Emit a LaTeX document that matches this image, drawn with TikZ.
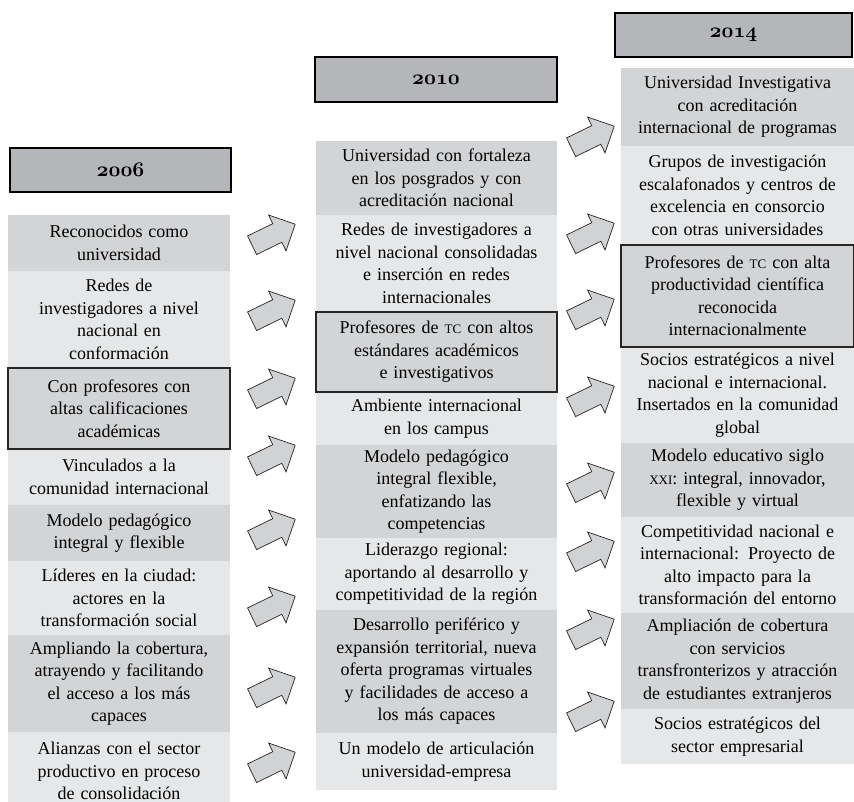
\documentclass[tikz,border=0pt]{standalone}
\usepackage{fontspec}
\setmainfont{Liberation Serif}
\usetikzlibrary{positioning,shapes.arrows}
\definecolor{headgray}{HTML}{B5B6B9}
\definecolor{boxdark}{HTML}{D3D4D6}
\definecolor{boxlight}{HTML}{E6E7E8}
\definecolor{arrowgray}{HTML}{D1D2D4}
\newcommand{\smc}[1]{{\fontsize{13}{22.5}\selectfont #1}}
\newcommand{\yr}[1]{{\boldmath$\mathnormal{#1}$}}
\tikzset{
	yearbox/.style={draw=black,line width=2pt,fill=headgray,inner sep=0pt,font=\fontsize{21}{24}\selectfont},
	item/.style={inner xsep=4pt,inner ysep=0pt,outer sep=0pt,align=center,font=\fontsize{18}{22.5}\selectfont},
	darkitem/.style={item,fill=boxdark},
	lightitem/.style={item,fill=boxlight},
	frameline/.style={draw=black!85,line width=1.5pt},
	cola/.style={text width=214pt},
	colb/.style={text width=233pt},
	colc/.style={text width=225pt},
	blockarrow/.style={single arrow,draw=black!85,line width=0.7pt,fill=arrowgray,inner sep=0pt,
		text height=10pt,text depth=10pt,minimum height=48pt,single arrow head extend=9.6pt,rotate=26}
}
\begin{document}
\begin{tikzpicture}[x=1pt,y=-1pt]
	\useasboundingbox (0,0) rectangle (854,802);
	% 2006
	\node[yearbox,minimum width=221pt,minimum height=44pt] (Y2006) at (120.5,170) {\yr{2006}};
	\node[darkitem,cola,minimum height=56pt,anchor=north] (A1) at (119,215) {Reconocidos como\\universidad};
	\node[lightitem,cola,minimum height=97pt,below=0pt of A1] (A2) {Redes de\\investigadores a nivel\\nacional en\\conformación};
	\node[darkitem,cola,minimum height=81pt,below=0pt of A2] (A3) {Con profesores con\\altas calificaciones\\académicas};
	\node[lightitem,cola,minimum height=56pt,below=0pt of A3] (A4) {Vinculados a la\\comunidad internacional};
	\node[darkitem,cola,minimum height=56pt,below=0pt of A4] (A5) {Modelo pedagógico\\integral y flexible};
	\node[lightitem,cola,minimum height=74pt,below=0pt of A5] (A6) {Líderes en la ciudad:\\actores en la\\transformación social};
	\node[darkitem,cola,minimum height=97pt,below=0pt of A6] (A7) {Ampliando la cobertura,\\atrayendo y facilitando\\el acceso a los más\\capaces};
	\node[lightitem,cola,minimum height=78pt,below=0pt of A7] (A8) {Alianzas con el sector\\productivo en proceso\\de consolidación};
	\draw[frameline] (A3.north west) rectangle (A3.south east);

	% 2010
	\node[yearbox,minimum width=242pt,minimum height=45pt] (Y2010) at (436,79.5) {\yr{2010}};
	\node[darkitem,colb,minimum height=74pt,anchor=north] (B1) at (436.5,141) {Universidad con fortaleza\\en los posgrados y con\\acreditación nacional};
	\node[lightitem,colb,minimum height=97pt,below=0pt of B1] (B2) {Redes de investigadores a\\nivel nacional consolidadas\\e inserción en redes\\internacionales};
	\node[darkitem,colb,minimum height=80pt,below=0pt of B2] (B3) {Profesores de \smc{TC} con altos\\estándares académicos\\e investigativos};
	\node[lightitem,colb,minimum height=53pt,below=0pt of B3] (B4) {Ambiente internacional\\en los campus};
	\node[darkitem,colb,minimum height=93pt,below=0pt of B4] (B5) {Modelo pedagógico\\integral flexible,\\enfatizando las\\competencias};
	\node[lightitem,colb,minimum height=72pt,below=0pt of B5] (B6) {Liderazgo regional:\\aportando al desarrollo y\\competitividad de la región};
	\node[darkitem,colb,minimum height=123pt,below=0pt of B6] (B7) {Desarrollo periférico y\\expansión territorial, nueva\\oferta programas virtuales\\y facilidades de acceso a\\los más capaces};
	\node[lightitem,colb,minimum height=57pt,below=0pt of B7] (B8) {Un modelo de articulación\\universidad-empresa};
	\draw[frameline] (B3.north west) rectangle (B3.south east);

	% 2014
	\node[yearbox,minimum width=237pt,minimum height=44pt] (Y2014) at (733.5,35) {\yr{2014}};
	\node[darkitem,colc,minimum height=78pt,anchor=north] (C1) at (737.5,68) {Universidad Investigativa\\con acreditación\\internacional de programas};
	\node[lightitem,colc,minimum height=99pt,below=0pt of C1] (C2) {Grupos de investigación\\escalafonados y centros de\\excelencia en consorcio\\con otras universidades};
	\node[darkitem,colc,minimum height=102pt,below=0pt of C2] (C3) {Profesores de \smc{TC} con alta\\productividad científica\\reconocida\\internacionalmente};
	\node[lightitem,colc,minimum height=96pt,below=0pt of C3] (C4) {Socios estratégicos a nivel\\nacional e internacional.\\Insertados en la comunidad\\global};
	\node[darkitem,colc,minimum height=74pt,below=0pt of C4] (C5) {Modelo educativo siglo\\\smc{XXI}: integral, innovador,\\flexible y virtual};
	\node[lightitem,colc,minimum height=96pt,below=0pt of C5] (C6) {Competitividad nacional e\\internacional: Proyecto de\\alto impacto para la\\transformación del entorno};
	\node[darkitem,colc,minimum height=96pt,below=0pt of C6] (C7) {Ampliación de cobertura\\con servicios\\transfronterizos y atracción\\de estudiantes extranjeros};
	\node[lightitem,colc,minimum height=55pt,below=0pt of C7] (C8) {Socios estratégicos del\\sector empresarial};
	\draw[frameline] (C3.north west) rectangle (C3.south east);

	% arrows 2006 -> 2010
	\node[blockarrow] (AB1) at (269,237) {};
	\node[blockarrow] (AB2) at (269,313) {};
	\node[blockarrow] (AB3) at (269,391) {};
	\node[blockarrow] (AB4) at (269,458) {};
	\node[blockarrow] (AB5) at (269,532) {};
	\node[blockarrow] (AB6) at (269,609) {};
	\node[blockarrow] (AB7) at (269,690) {};
	\node[blockarrow] (AB8) at (269,765) {};
	% arrows 2010 -> 2014
	\node[blockarrow] (BC1) at (588,139) {};
	\node[blockarrow] (BC2) at (588,236) {};
	\node[blockarrow] (BC3) at (588,312) {};
	\node[blockarrow] (BC4) at (588,399) {};
	\node[blockarrow] (BC5) at (588,485) {};
	\node[blockarrow] (BC6) at (588,554) {};
	\node[blockarrow] (BC7) at (588,632) {};
	\node[blockarrow] (BC8) at (588,714) {};
\end{tikzpicture}
\end{document}
